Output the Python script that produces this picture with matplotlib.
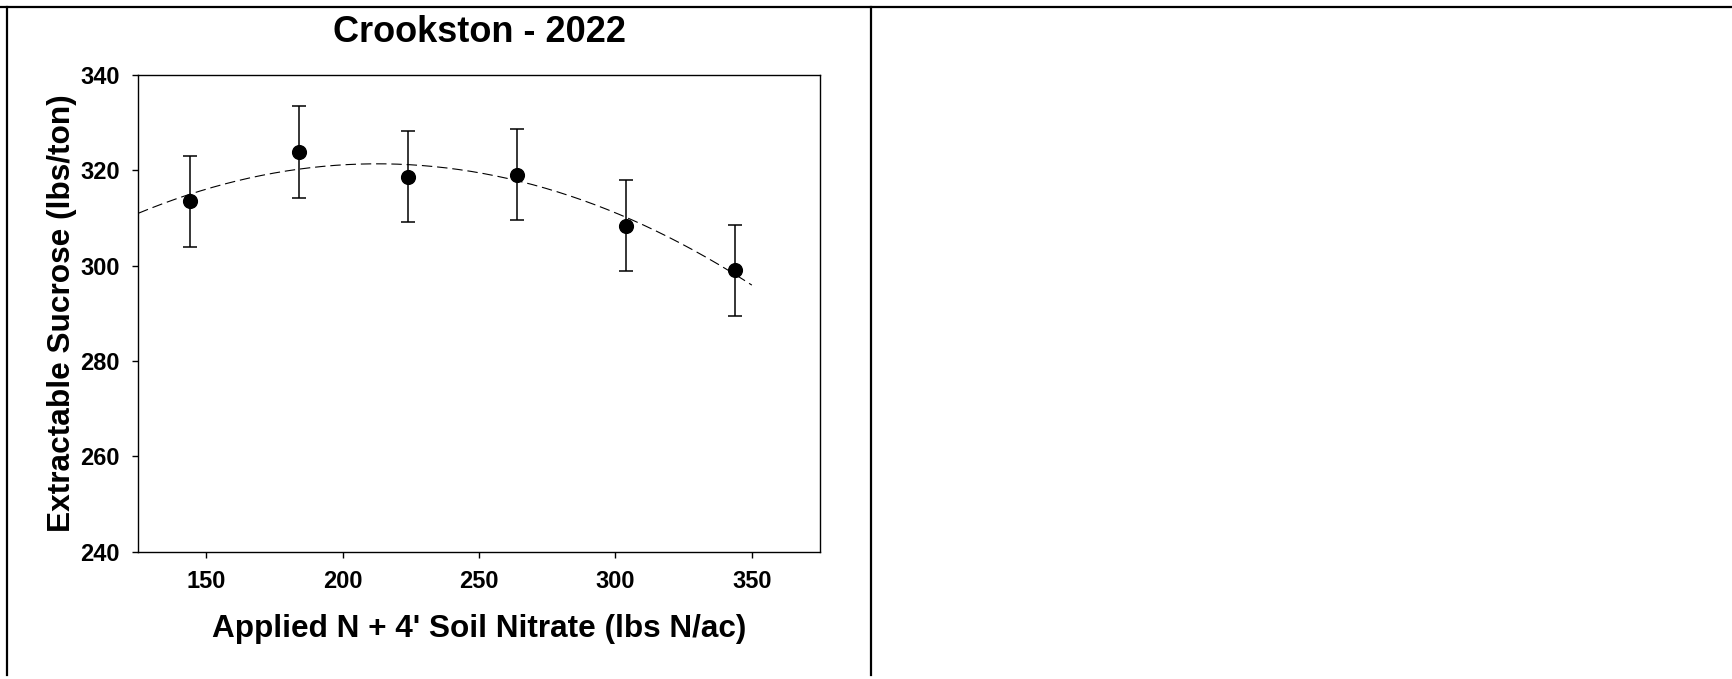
import matplotlib
matplotlib.use('Agg')
import matplotlib.pyplot as plt
from matplotlib import rcParams as rc
from matplotlib.lines import Line2D
import numpy as np


# total N supply (applied + 4 ft soil nitrate), lbs N/ac
n_supply = np.array([144, 184, 224, 264, 304, 344])
# extractable sucrose, lbs/ton, with error bars
sucrose = np.array([313.5, 323.8, 318.7, 319.1, 308.4, 299.0])
sucrose_err = np.array([9.6, 9.6, 9.6, 9.5, 9.6, 9.6])

fit_start, fit_end = 125, 350

title = 'Crookston - 2022'
xlabel = "Applied N + 4' Soil Nitrate (lbs N/ac)"
ylabel = 'Extractable Sucrose (lbs/ton)'
xticks = [150, 200, 250, 300, 350]
yticks = [240, 260, 280, 300, 320, 340]

rc['font.family'] = 'Liberation Sans'
rc['font.weight'] = 'bold'
rc['lines.scale_dashes'] = False

W, H = 1732, 679
fig = plt.figure(figsize=(W / 100, H / 100), dpi=100)
fig.patch.set_facecolor('white')

ax_l, ax_r, ax_t, ax_b = 138.3, 820, 75, 551.7
ax = fig.add_axes([ax_l / W, 1 - ax_b / H, (ax_r - ax_l) / W, (ax_b - ax_t) / H])

# quadratic response fitted to the means
coef = np.polyfit(n_supply, sucrose, 2)
xf = np.linspace(fit_start, fit_end, 200)
ax.plot(xf, np.polyval(coef, xf), color='black', lw=0.8, dashes=(7.5, 3.5), zorder=2)

ax.errorbar(n_supply, sucrose, yerr=sucrose_err, fmt='o', color='black',
            ms=9.9, ecolor='black', elinewidth=1.1, capsize=5, capthick=1.1, zorder=3)

ax.set_xlim(125, 375)
ax.set_ylim(240, 340)
ax.set_xticks(xticks)
ax.set_yticks(yticks)
ax.tick_params(direction='out', length=4.3, width=1.0, labelsize=17, pad=9,
               top=False, right=False)
for lab in ax.get_xticklabels() + ax.get_yticklabels():
    lab.set_fontweight('bold')
for s in ax.spines.values():
    s.set_linewidth(1.0)
    s.set_color('black')

ax.set_xlabel(xlabel, fontsize=22.7, fontweight='bold', va='center')
ax.xaxis.set_label_coords(0.5, (ax_b - 629) / (ax_b - ax_t))
ax.set_ylabel(ylabel, fontsize=22.8, fontweight='bold', va='center')
ax.yaxis.set_label_coords((62 - ax_l) / (ax_r - ax_l), 0.5)

fig.text(480 / W, 1 - 32 / H, title, ha='center', va='center',
         fontsize=26, fontweight='bold')

# panel frame: top rule, left edge and divider between panels
def fline(x0, y0, x1, y1):
    fig.add_artist(Line2D([x0 / W, x1 / W], [1 - y0 / H, 1 - y1 / H],
                          color='black', lw=1.6, transform=fig.transFigure))

fline(0, 6.5, W, 6.5)
fline(7.3, 6.5, 7.3, 675)
fline(871, 6.5, 871, 675)

fig.savefig('out.png', dpi=100, facecolor='white')
